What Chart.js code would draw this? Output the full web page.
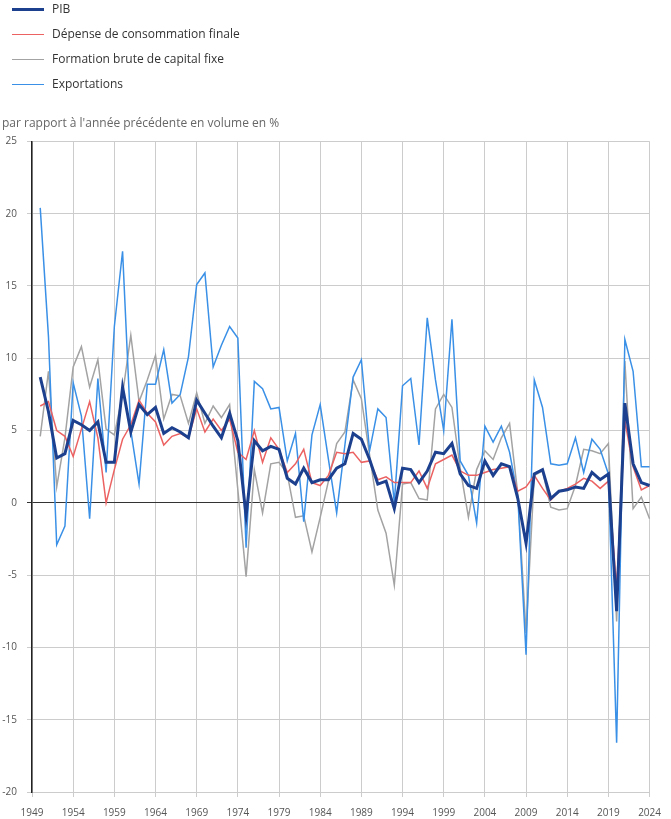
<!DOCTYPE html>
<html lang="fr">
<head>
<meta charset="utf-8">
<title>PIB et composantes</title>
<script src="https://cdn.jsdelivr.net/npm/chart.js@4.4.1/dist/chart.umd.min.js"></script>
<style>
  html, body { margin: 0; padding: 0; background: #fff; }
  #wrap { position: relative; width: 671px; height: 819px; font-family: 'Open Sans', sans-serif; }
  #legend { position: absolute; left: 0; top: -4.5px; font-size: 12px; color: #333; }
  #legend .row { height: 25px; line-height: 25px; white-space: nowrap; }
  #legend .swatch { display: inline-block; width: 32px; vertical-align: middle; margin: 0 8px 0 12px; }
</style>
</head>
<body>
<div id="wrap">
  <canvas id="myChart"></canvas>
  <div id="legend"></div>
</div>
<script>
/* global Chart*/

// years shown on the x axis (1949 is the empty start of the axis)
const years = [];
for (let y = 1949; y <= 2024; y++) years.push(String(y));

const xTickLabels = ['1949', '1954', '1959', '1964', '1969', '1974', '1979', '1984',
  '1989', '1994', '1999', '2004', '2009', '2014', '2019', '2024'];

// growth rates 1950 -> 2024, % vs previous year, volume
const pib = [
  8.7, 6.3, 3.1, 3.4, 5.7, 5.4, 5.0, 5.6, 2.8, 2.8,
  8.0, 4.9, 6.8, 6.1, 6.6, 4.8, 5.2, 4.9, 4.5, 7.1,
  6.2, 5.3, 4.5, 6.2, 4.3, -0.9, 4.3, 3.6, 3.9, 3.7,
  1.7, 1.3, 2.4, 1.4, 1.6, 1.6, 2.4, 2.7, 4.8, 4.4,
  3.0, 1.3, 1.5, -0.4, 2.4, 2.3, 1.4, 2.2, 3.5, 3.4,
  4.1, 2.0, 1.2, 1.0, 2.9, 1.9, 2.7, 2.5, 0.3, -2.8,
  2.0, 2.3, 0.3, 0.8, 0.9, 1.1, 1.0, 2.1, 1.6, 2.0,
  -7.5, 6.9, 2.7, 1.4, 1.2
];

const consommation = [
  6.7, 7.0, 5.0, 4.6, 3.2, 5.1, 7.0, 4.5, 0.0, 2.3,
  4.4, 5.4, 7.1, 6.2, 5.6, 4.0, 4.6, 4.8, 4.5, 6.5,
  4.9, 5.8, 5.0, 5.8, 3.5, 3.0, 5.0, 2.8, 4.5, 3.7,
  2.1, 2.7, 3.7, 1.4, 1.2, 1.9, 3.5, 3.4, 3.5, 2.8,
  2.9, 1.6, 1.8, 1.4, 1.4, 1.4, 2.2, 1.0, 2.7, 3.0,
  3.3, 2.2, 1.9, 1.9, 2.1, 2.3, 2.4, 2.5, 0.8, 1.1,
  1.9, 1.0, 0.2, 0.8, 1.0, 1.3, 1.7, 1.5, 1.0, 1.5,
  -5.9, 5.7, 2.5, 0.9, 1.2
];

const fbcf = [
  4.6, 9.1, 1.1, 4.5, 9.4, 10.8, 8.0, 9.9, 5.1, 4.7,
  7.5, 11.6, 7.0, 8.5, 10.2, 5.8, 7.5, 7.4, 5.5, 7.6,
  5.5, 6.7, 5.9, 6.8, 0.9, -5.1, 2.3, -0.7, 2.7, 2.8,
  2.0, -1.0, -0.9, -3.4, -1.0, 1.5, 4.1, 4.9, 8.5, 7.2,
  3.3, -0.5, -2.1, -5.7, 1.3, 1.4, 0.3, 0.2, 6.5, 7.5,
  6.6, 2.4, -1.0, 2.3, 3.6, 3.0, 4.5, 5.5, 0.6, -9.0,
  1.9, 2.2, -0.3, -0.5, -0.4, 1.2, 3.7, 3.6, 3.4, 4.1,
  -8.2, 9.8, -0.4, 0.4, -1.1
];

const exportations = [
  20.4, 11.5, -2.9, -1.6, 8.3, 6.0, -1.1, 8.6, 2.1, 12.2,
  17.4, 5.0, 1.3, 8.2, 8.2, 10.6, 6.9, 7.5, 10.1, 15.1,
  15.9, 9.4, 10.9, 12.2, 11.4, -3.1, 8.4, 7.9, 6.5, 6.6,
  2.9, 4.8, -1.3, 4.7, 6.8, 3.0, -0.7, 4.0, 8.7, 9.9,
  3.6, 6.5, 5.9, 0.0, 8.1, 8.6, 4.0, 12.8, 8.5, 5.0,
  12.7, 2.9, 1.9, -1.4, 5.3, 4.2, 5.3, 3.5, 0.4, -10.5,
  8.5, 6.6, 2.7, 2.6, 2.7, 4.5, 2.1, 4.4, 3.7, 2.0,
  -16.6, 11.3, 9.1, 2.5, 2.5
];

const seriesNames = ['PIB', 'Dépense de consommation finale', 'Formation brute de capital fixe', 'Exportations'];
const seriesColors = ['#1c3f8e', '#ec6262', '#a3a3a3', '#3a90e6'];
const seriesWidths = [3, 1.5, 1.5, 1.5];
const seriesData = [pib, consommation, fbcf, exportations];
// PIB on top, then consumption, exports, investment at the back
const drawOrder = [0, 1, 3, 2];

const FONT = "'Open Sans', sans-serif";
Chart.defaults.font.family = FONT;

const ctx = document.getElementById('myChart').getContext('2d');

const chart = new Chart(ctx, {
  type: 'line',
  data: {
    labels: years,
    datasets: seriesNames.map((name, i) => ({
      label: name,
      data: [null].concat(seriesData[i]),
      borderColor: seriesColors[i],
      backgroundColor: seriesColors[i],
      borderWidth: seriesWidths[i],
      pointRadius: 0,
      tension: 0,
      order: drawOrder[i],
    }))
  },
  options: {
    responsive: true,
    maintainAspectRatio: false,
    animation: false,
    layout: { padding: { top: 108, left: 2, right: 9, bottom: 0 } },
    plugins: {
      legend: { display: false },
      tooltip: { enabled: false },
      title: {
        display: true,
        text: "par rapport à l'année précédente en volume en %",
        align: 'start',
        color: '#666',
        font: { size: 12, weight: 'normal', family: FONT },
        padding: { top: 8, bottom: 11 },
      }
    },
    scales: {
      x: {
        afterFit: (axis) => { axis.height = 27; },
        grid: { color: '#cccccc', lineWidth: 1, tickLength: 5 },
        border: { color: '#cccccc' },
        ticks: {
          autoSkip: false,
          maxRotation: 0,
          padding: 10,
          color: '#555',
          font: { size: 10 },
          callback: function(value) {
            const lab = this.getLabelForValue(value);
            return xTickLabels.includes(lab) ? lab : null;
          }
        }
      },
      y: {
        min: -20,
        max: 25,
        afterFit: (axis) => { axis.width = 30; },
        ticks: { stepSize: 5, padding: 10, color: '#555', font: { size: 10 } },
        grid: {
          tickLength: 5,
          color: (c) => (c.tick && c.tick.value === 0 ? '#333' : '#cccccc'),
        },
        border: { color: '#222', width: 1.5 },
      }
    }
  },
});

// legend stacked vertically, as in the source chart
const legendBox = document.getElementById('legend');
chart.data.datasets.forEach((ds) => {
  const row = document.createElement('div');
  row.className = 'row';
  const sw = document.createElement('span');
  sw.className = 'swatch';
  sw.style.height = ds.borderWidth + 'px';
  sw.style.background = ds.borderColor;
  row.appendChild(sw);
  row.appendChild(document.createTextNode(ds.label));
  legendBox.appendChild(row);
});
</script>
</body>
</html>
